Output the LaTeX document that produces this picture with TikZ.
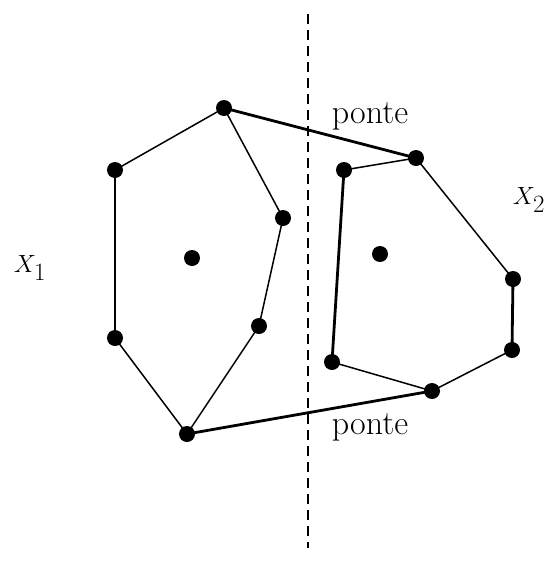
\documentclass[tikz,border=0pt]{standalone}
\begin{document}
\begin{tikzpicture}[x=1pt,y=-1pt,
  pt/.style={circle,fill=black,inner sep=0pt,minimum size=16pt},
  thin edge/.style={line width=1.5pt},
  thick edge/.style={line width=2.8pt},
  lbl/.style={font=\fontsize{34}{40}\selectfont}]
\useasboundingbox (0,0) rectangle (550,563);
\coordinate (top) at (308,14);
\coordinate (bot) at (308,548);
\draw[line width=2.2pt,dash pattern=on 10pt off 6pt] (top) -- (bot);
% X1
\node[pt] (A) at (224,108) {};
\node[pt] (B) at (115,170) {};
\node[pt] (C) at (115,338) {};
\node[pt] (D) at (187,434) {};
\node[pt] (E) at (259,326) {};
\node[pt] (F) at (283,218) {};
\node[pt] (c1) at (192,258) {};
% X2
\node[pt] (G) at (344,170) {};
\node[pt] (H) at (416,158) {};
\node[pt] (I) at (513,279) {};
\node[pt] (J) at (512,350) {};
\node[pt] (K) at (432,391) {};
\node[pt] (L) at (332,362) {};
\node[pt] (c2) at (380,254) {};
\draw[thin edge] (A.center) -- (B.center);
\draw[thick edge] (B.center) -- (C.center);
\draw[thin edge] (C.center) -- (D.center) -- (E.center) -- (F.center) -- (A.center);
\draw[thick edge] (A.center) -- (H.center);
\draw[thick edge] (D.center) -- (K.center);
\draw[thin edge] (G.center) -- (H.center) -- (I.center);
\draw[thick edge] (I.center) -- (J.center);
\draw[thin edge] (J.center) -- (K.center) -- (L.center);
\draw[thick edge] (L.center) -- (G.center);
\node[lbl] (p1) at (370,116) {ponte};
\node[lbl] (p2) at (370,427) {ponte};
\node[lbl] (x1) at (30,268) {$X_1$};
\node[lbl] (x2) at (529,200) {$X_2$};
\end{tikzpicture}
\end{document}
